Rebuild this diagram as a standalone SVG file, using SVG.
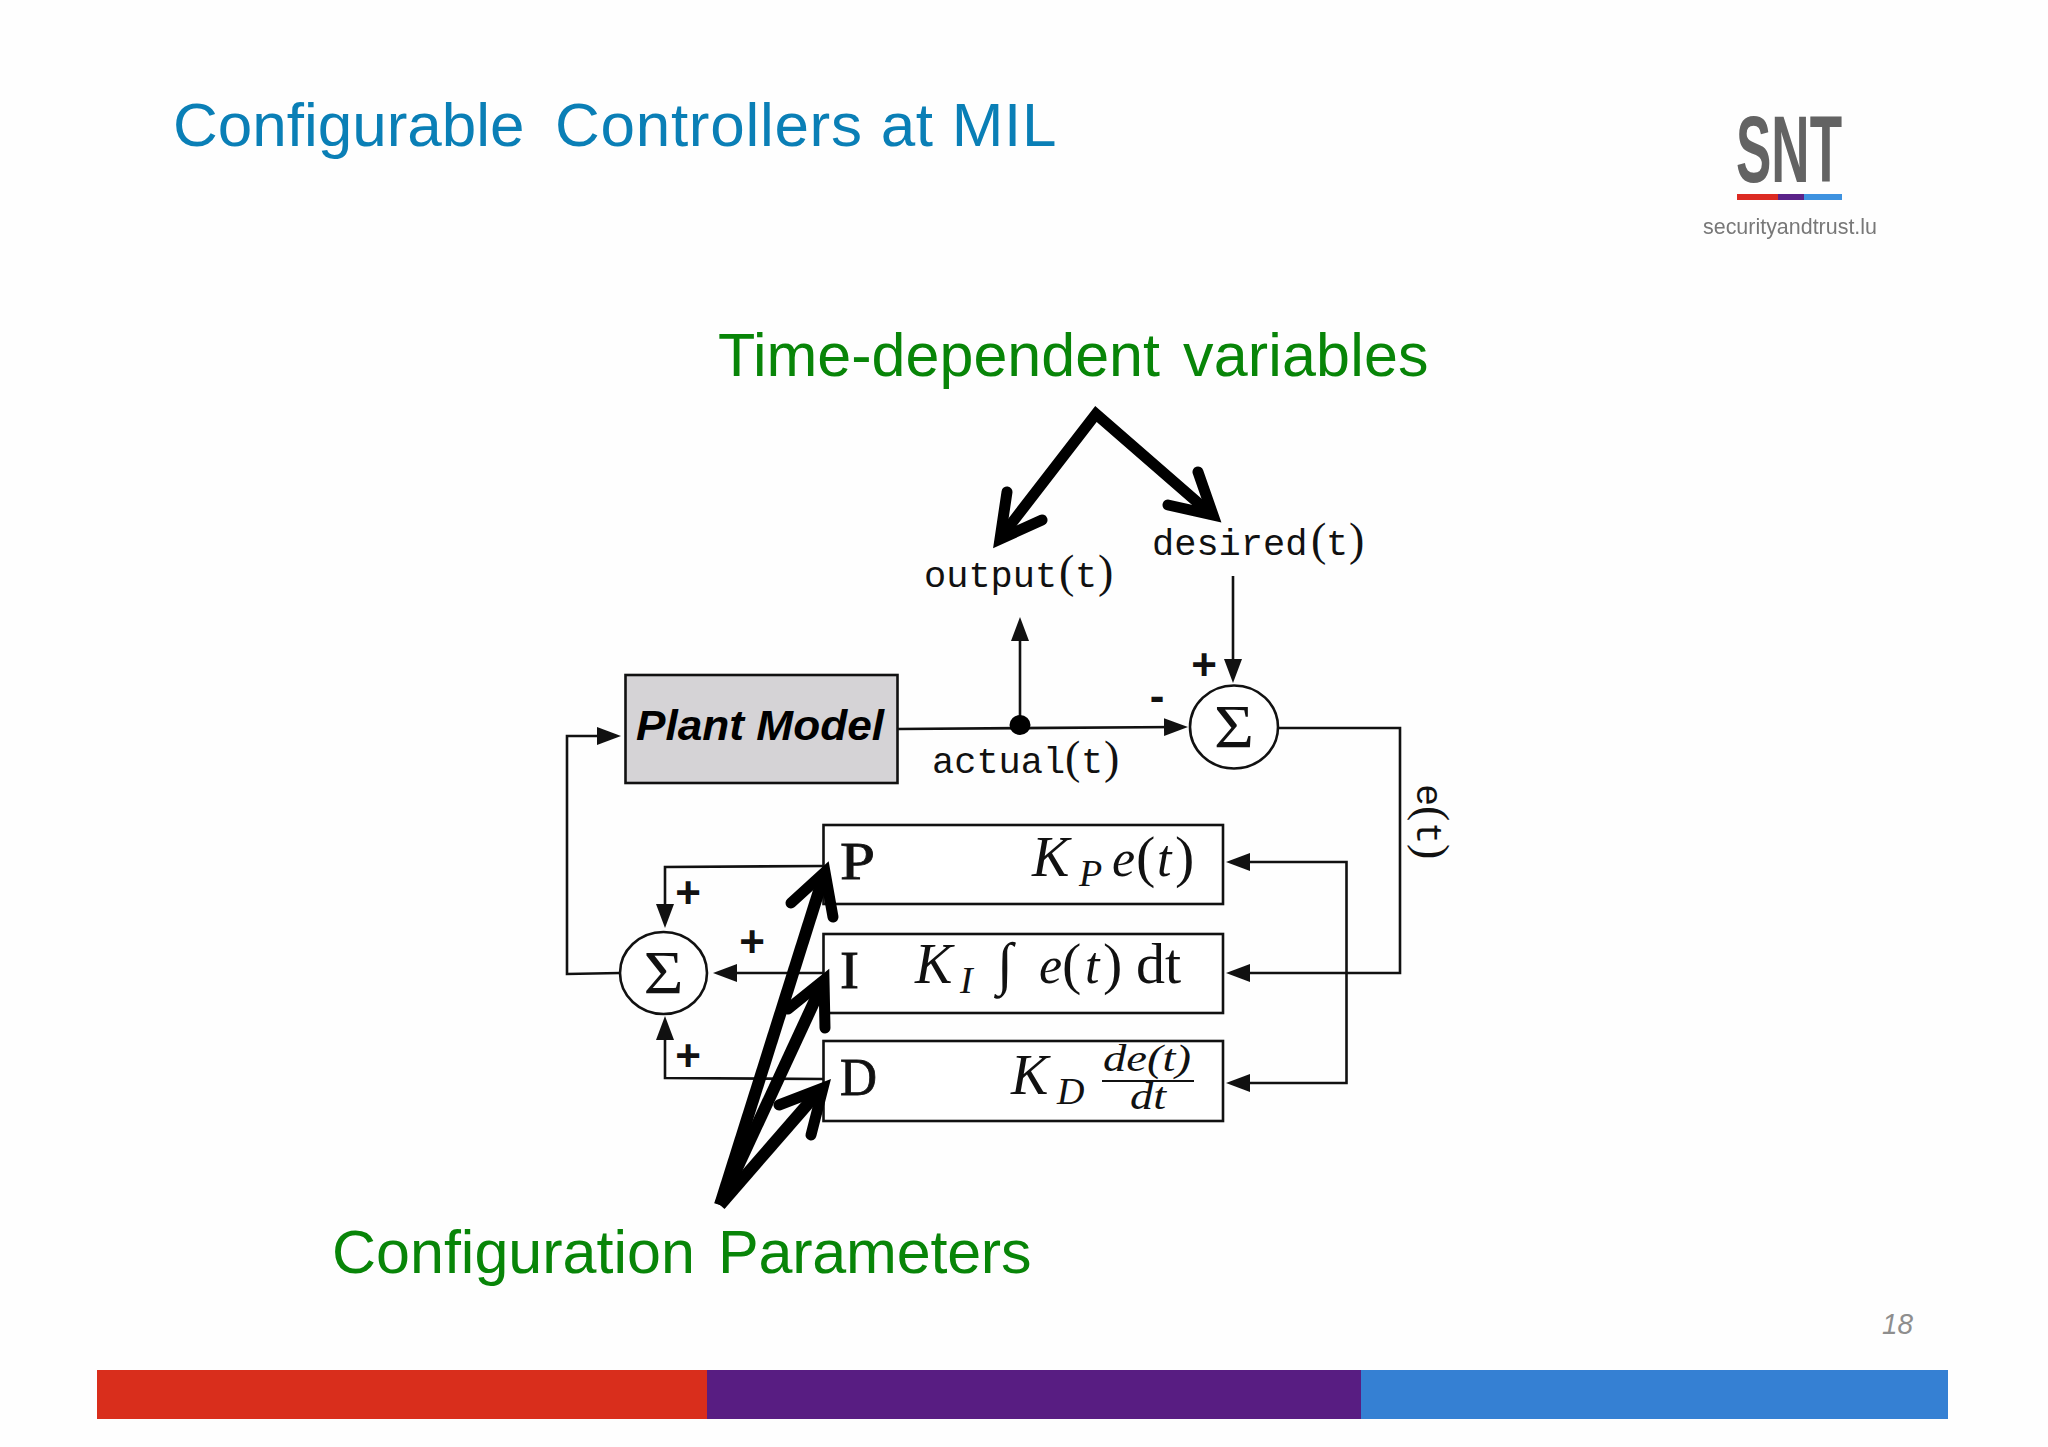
<svg xmlns="http://www.w3.org/2000/svg" width="2048" height="1447" viewBox="0 0 2048 1447">
<style>
.sans{font-family:"Liberation Sans",Arial,sans-serif}
.title{font-size:62px;fill:#0a7fb6}
.green{font-size:61px;fill:#088508}
.mono{font-family:"Liberation Mono","DejaVu Sans Mono",monospace;font-size:37px;fill:#111}
.paren{font-family:"Liberation Serif","DejaVu Serif",serif;font-size:46px}
.letter{font-family:"Liberation Serif","DejaVu Serif",serif;font-size:52px;fill:#111;stroke:#111;stroke-width:.8}
.math{font-family:"Liberation Serif","DejaVu Serif",serif;font-size:52px;fill:#111}
.it{font-style:italic}
.k{font-size:56px;font-style:italic}
.sub{font-size:38px;font-style:italic}
.sign{font-family:"Liberation Sans",Arial,sans-serif;font-size:44px;font-weight:bold;text-anchor:middle;fill:#111}
.sigma{font-family:"Liberation Serif","DejaVu Serif",serif;font-size:62px;text-anchor:middle;fill:#111}
.box{fill:#fff;stroke:#111;stroke-width:2.6}
.line{fill:none;stroke:#111;stroke-width:2.6}
.thick{fill:none;stroke:#000;stroke-width:11;stroke-linecap:butt;stroke-linejoin:miter;stroke-miterlimit:10}
.thick2{fill:none;stroke:#000;stroke-width:12;stroke-linecap:butt}
.barb{fill:none;stroke:#000;stroke-width:11;stroke-linecap:round;stroke-linejoin:miter;stroke-miterlimit:10}
</style>
<defs>
<marker id="head" markerUnits="userSpaceOnUse" markerWidth="26" markerHeight="20" refX="16" refY="10" orient="auto"><path d="M0,1 L24,10 L0,19 Z" fill="#111"/></marker>
<filter id="soft" x="-5%" y="-5%" width="110%" height="110%"><feGaussianBlur stdDeviation="0.7"/></filter>
</defs>
<rect width="2048" height="1447" fill="#fefefe"/>
<text id="title" class="sans title" y="146"><tspan x="173">Configurable </tspan><tspan x="555" style="letter-spacing:.72px">Controllers at MIL</tspan></text>
<g id="logo" filter="url(#soft)">
<text class="sans" x="1736" y="182" font-size="95" font-weight="bold" fill="#636363" textLength="106" lengthAdjust="spacingAndGlyphs">SNT</text>
<rect x="1737" y="194" width="41" height="6" fill="#dc2a22"/>
<rect x="1778" y="194" width="26" height="6" fill="#5a2389"/>
<rect x="1804" y="194" width="38" height="6" fill="#3d92e0"/>
<text class="sans" x="1703" y="234" font-size="22" fill="#787878" textLength="174" lengthAdjust="spacingAndGlyphs">securityandtrust.lu</text>
</g>
<text id="label-time" class="sans green" y="376"><tspan x="718">Time-dependent </tspan><tspan x="1183" style="letter-spacing:.17px">variables</tspan></text>
<text id="label-config" class="sans green" y="1273"><tspan x="332">Configuration </tspan><tspan x="718" style="letter-spacing:-.2px">Parameters</tspan></text>
<text id="page" class="sans" x="1882" y="1334" font-size="30" font-style="italic" fill="#8e8e8e" textLength="31" lengthAdjust="spacingAndGlyphs">18</text>
<g id="footer">
<rect x="97" y="1370" width="610" height="49" fill="#d92e1c"/>
<rect x="707" y="1370" width="654" height="49" fill="#581d82"/>
<rect x="1361" y="1370" width="587" height="49" fill="#3580d3"/>
</g>
<g id="plant"><rect class="box" x="625.5" y="675" width="272" height="108" style="fill:#d5d3d6"/>
<text class="sans" x="636" y="740" font-size="43" font-weight="bold" font-style="italic" fill="#000" textLength="248" lengthAdjust="spacingAndGlyphs">Plant Model</text></g>
<g id="box-p"><rect class="box" x="823.5" y="825" width="399.500" height="79"/>
<text class="letter" x="840" y="879" textLength="35" lengthAdjust="spacingAndGlyphs">P</text>
<text class="math"><tspan class="k" x="1032" y="876">K</tspan><tspan class="sub" x="1079" y="886">P</tspan><tspan class="it" x="1112" y="876">e</tspan><tspan x="1136" y="876" font-size="58">(</tspan><tspan class="it" x="1157" y="876">t</tspan><tspan x="1175" y="876" font-size="58">)</tspan></text></g>
<g id="box-i"><rect class="box" x="823.5" y="934" width="399.500" height="79"/>
<text class="letter" x="840" y="988" textLength="19" lengthAdjust="spacingAndGlyphs">I</text>
<text class="math"><tspan class="k" x="915" y="983">K</tspan><tspan class="sub" x="960" y="993">I</tspan><tspan class="it" x="997" y="983" font-size="58">∫</tspan><tspan class="it" x="1039" y="983">e</tspan><tspan x="1062" y="983" font-size="58">(</tspan><tspan class="it" x="1085" y="983">t</tspan><tspan x="1103" y="983" font-size="58">)</tspan><tspan x="1136" y="983" font-size="58">dt</tspan></text></g>
<g id="box-d"><rect class="box" x="823.5" y="1041" width="399.500" height="80"/>
<text class="letter" x="840" y="1095" textLength="37" lengthAdjust="spacingAndGlyphs">D</text>
<text class="math"><tspan class="k" x="1011" y="1094">K</tspan><tspan class="sub" x="1057" y="1104">D</tspan></text>
<text class="math it" x="1103" y="1071" style="font-size:38px" textLength="88" lengthAdjust="spacingAndGlyphs">de(t)</text>
<rect x="1102" y="1080" width="92" height="2" fill="#111"/>
<text class="math it" x="1130" y="1109" style="font-size:38px" textLength="36" lengthAdjust="spacingAndGlyphs">dt</text></g>
<g id="sum-top"><ellipse class="box" cx="1234" cy="727" rx="44" ry="41.500"/><text class="sigma" x="1234" y="747" textLength="40" lengthAdjust="spacingAndGlyphs">Σ</text></g>
<g id="sum-left"><ellipse class="box" cx="663.500" cy="973" rx="43.500" ry="41"/><text class="sigma" x="663.500" y="993" textLength="40" lengthAdjust="spacingAndGlyphs">Σ</text></g>
<g id="connectors">
<path class="line" d="M897,729 L1180,727" marker-end="url(#head)"/>
<path class="line" d="M1020,725 V625" marker-end="url(#head)"/>
<path class="line" d="M1233,576 V675" marker-end="url(#head)"/>
<path class="line" d="M1279,728 H1400 V973 H1234" marker-end="url(#head)"/>
<path class="line" d="M1346.500,973 V1083 H1234" marker-end="url(#head)"/>
<path class="line" d="M1346.500,973 V862 H1234" marker-end="url(#head)"/>
<path class="line" d="M823,866 L665,867 V920" marker-end="url(#head)"/>
<path class="line" d="M823,973 H721" marker-end="url(#head)"/>
<path class="line" d="M823,1079 L665,1078 V1024" marker-end="url(#head)"/>
<path class="line" d="M620,973 L567,974 V736 H613" marker-end="url(#head)"/>
<ellipse cx="1020" cy="725" rx="10.500" ry="10" fill="#000"/>
<path class="thick" d="M1001,537 L1096,414 L1212,515"/>
<path class="barb" d="M1007,492 L1000,539 L1042,520"/>
<path class="barb" d="M1198,472 L1213,515 L1168,505"/>
<path class="thick2" d="M720,1205 L824,875"/>
<path class="barb" d="M791,903 L825,872 L833,917"/>
<path class="thick2" d="M720,1205 L822,985"/>
<path class="barb" d="M788,1009 L824,980 L825,1028"/>
<path class="thick2" d="M720,1205 L820,1090"/>
<path class="barb" d="M779,1105 L823,1088 L811,1135"/>
</g>
<g id="labels">
<text class="mono"><tspan x="924" y="587">output</tspan><tspan class="paren" x="1059" y="587">(</tspan><tspan x="1075" y="587">t</tspan><tspan class="paren" x="1098" y="587">)</tspan></text>
<text class="mono"><tspan x="1152" y="555">desired</tspan><tspan class="paren" x="1311" y="555">(</tspan><tspan x="1326" y="555">t</tspan><tspan class="paren" x="1349" y="555">)</tspan></text>
<text class="mono"><tspan x="932" y="773">actual</tspan><tspan class="paren" x="1065" y="773">(</tspan><tspan x="1081" y="773">t</tspan><tspan class="paren" x="1104" y="773">)</tspan></text>
<text class="mono" transform="translate(1417,784) rotate(90)"><tspan x="0" y="0">e</tspan><tspan class="paren" x="22" y="0">(</tspan><tspan x="38" y="0">t</tspan><tspan class="paren" x="60" y="0">)</tspan></text>
<text class="sign" x="1204" y="680">+</text>
<text class="sign" x="1157" y="711">-</text>
<text class="sign" x="688" y="908">+</text>
<text class="sign" x="752" y="957">+</text>
<text class="sign" x="688" y="1071">+</text>
</g>
</svg>
